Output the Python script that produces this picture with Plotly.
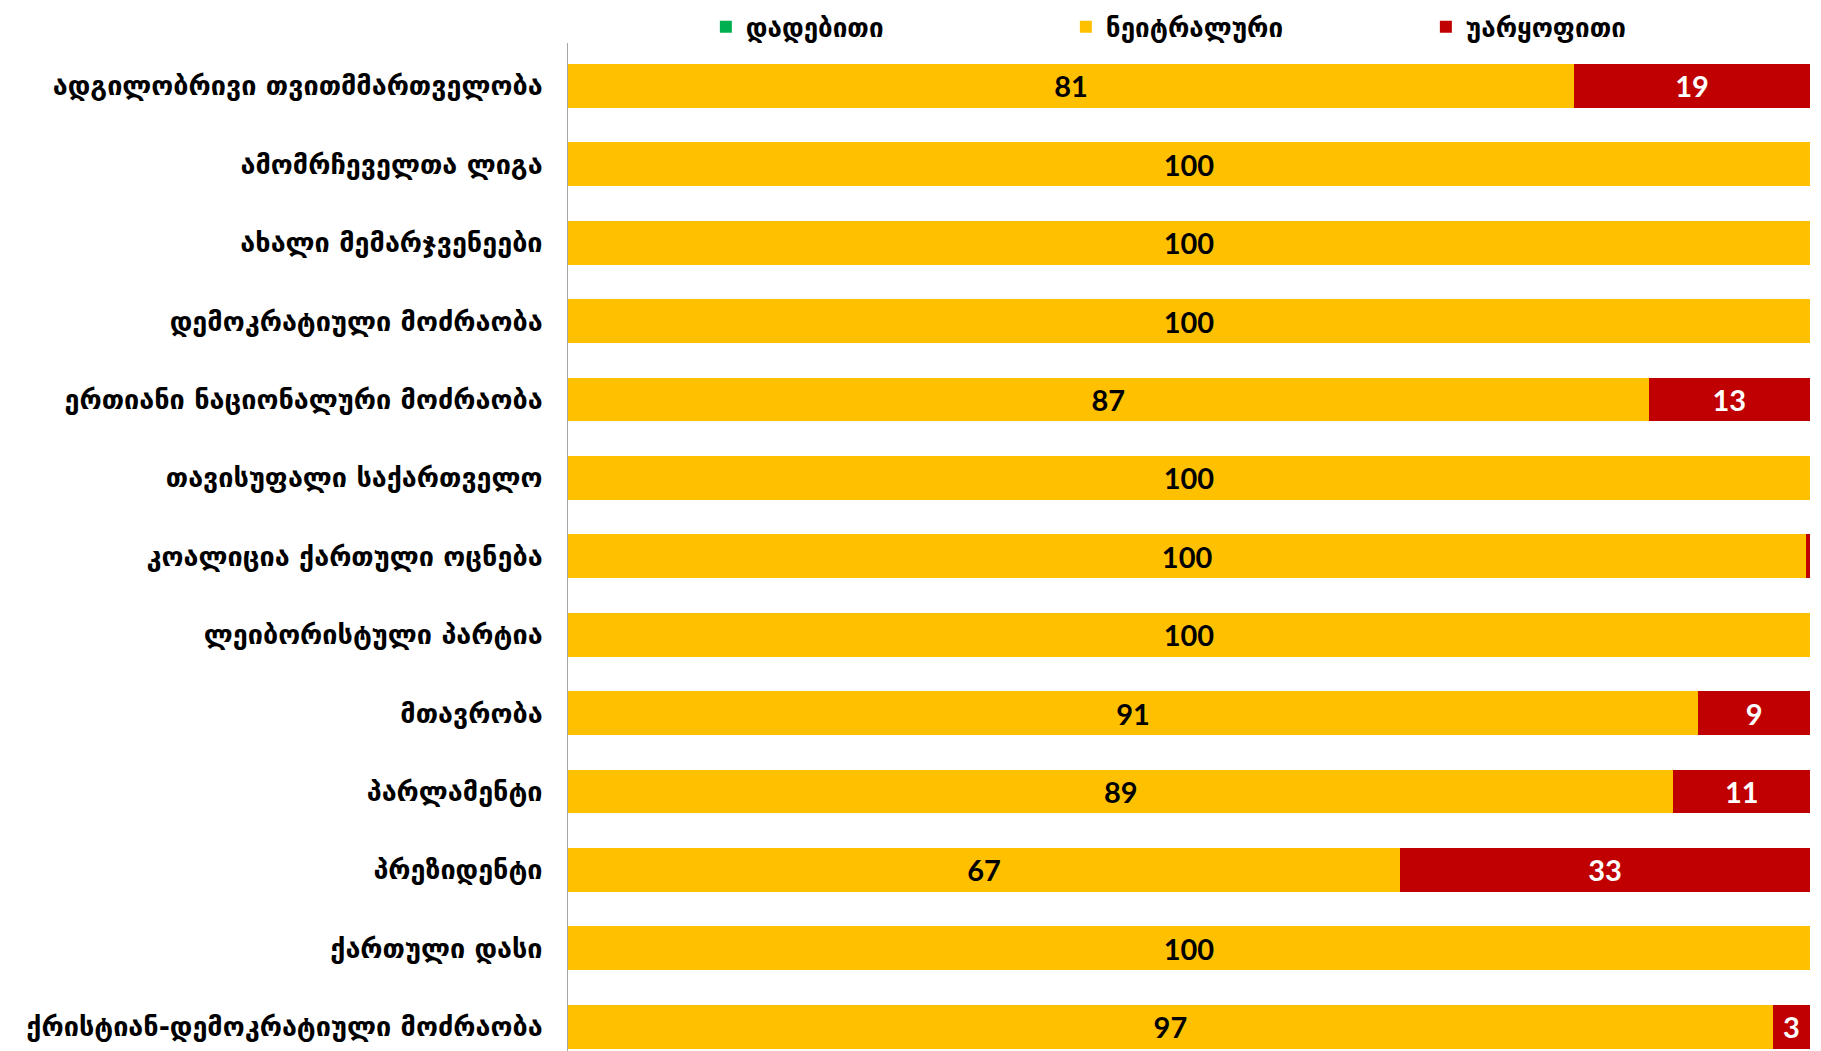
import plotly.graph_objects as go

categories = [
    "ადგილობრივი თვითმმართველობა",
    "ამომრჩეველთა ლიგა",
    "ახალი მემარჯვენეები",
    "დემოკრატიული მოძრაობა",
    "ერთიანი ნაციონალური მოძრაობა",
    "თავისუფალი საქართველო",
    "კოალიცია ქართული ოცნება",
    "ლეიბორისტული პარტია",
    "მთავრობა",
    "პარლამენტი",
    "პრეზიდენტი",
    "ქართული დასი",
    "ქრისტიან-დემოკრატიული მოძრაობა",
]

positive = [0, 0, 0, 0, 0, 0, 0, 0, 0, 0, 0, 0, 0]
neutral = [81, 100, 100, 100, 87, 100, 99.7, 100, 91, 89, 67, 100, 97]
negative = [19, 0, 0, 0, 13, 0, 0.3, 0, 9, 11, 33, 0, 3]

series_names = ["დადებითი", "ნეიტრალური", "უარყოფითი"]
series_colors = ["#00B050", "#FFC000", "#C00000"]
label_colors = ["white", "black", "white"]

GEO_FONT = "DejaVu Sans"
NUM_FONT = "Lato, Open Sans, sans-serif"


def labels(vals):
    return [f"{v:.0f}" if v >= 1 else "" for v in vals]


fig = go.Figure()

for name, vals, color, lc in zip(series_names, [positive, neutral, negative],
                                 series_colors, label_colors):
    fig.add_trace(
        go.Bar(
            name=name,
            y=categories,
            x=vals,
            orientation="h",
            marker=dict(color=color, line=dict(width=0)),
            text=labels(vals),
            textposition="inside",
            insidetextanchor="middle",
            textangle=0,
            textfont=dict(family=NUM_FONT, size=29, color=lc, weight="bold"),
            width=0.56,
        )
    )

# page body has an 8px margin, so the figure is sized to fit inside it
fig.update_layout(
    barmode="stack",
    width=1813,
    height=1043,
    margin=dict(l=560, r=11, t=35, b=0, autoexpand=False),
    paper_bgcolor="white",
    plot_bgcolor="white",
    uniformtext=dict(minsize=8, mode="show"),
    legend=dict(
        orientation="h",
        x=0.111,
        xanchor="left",
        y=1.016,
        yanchor="middle",
        entrywidth=315,
        itemwidth=30,
        bgcolor="rgba(0,0,0,0)",
        font=dict(family=GEO_FONT, size=26, color="black", weight="bold"),
        traceorder="normal",
    ),
    showlegend=True,
)

fig.update_xaxes(
    range=[0, 100],
    showgrid=False,
    zeroline=False,
    showticklabels=False,
    showline=False,
)

fig.update_yaxes(
    range=[12.31, -0.548],
    showgrid=False,
    showline=True,
    linecolor="#A6A6A6",
    linewidth=1,
    ticks="",
    ticklabelstandoff=19,
    tickfont=dict(family=GEO_FONT, size=27, color="black", weight="bold"),
)

fig.write_html("out.html")
